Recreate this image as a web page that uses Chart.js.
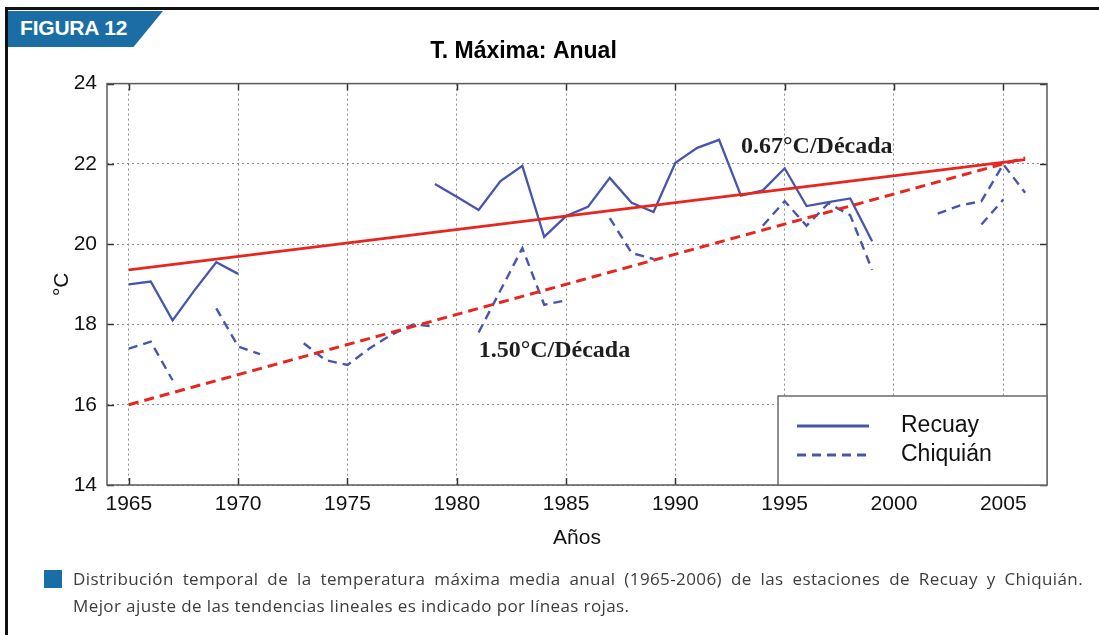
<!DOCTYPE html>
<html lang="es">
<head>
<meta charset="utf-8">
<title>T. Máxima: Anual</title>
<script src="https://cdn.jsdelivr.net/npm/chart.js@4/dist/chart.umd.min.js"></script>
<style>
  html, body { margin: 0; padding: 0; background: #fff; }
  body { width: 1099px; height: 635px; position: relative; overflow: hidden;
         font-family: "Liberation Sans", Arial, sans-serif; }
  .frame-top  { position: absolute; left: 5px; top: 7px; right: 0; height: 3px; background: #111; }
  .frame-left { position: absolute; left: 5px; top: 7px; bottom: 0; width: 3px; background: #111; }
  .tab { position: absolute; left: 8px; top: 11px; width: 155px; height: 36px; background: #1b6ea5;
         clip-path: polygon(0 0, 100% 0, 81% 100%, 0 100%); }
  .tab span { position: absolute; left: 12px; top: 5px; color: #fff; font-weight: bold; font-size: 21px;
              letter-spacing: -0.2px; }
  #wrap { position: absolute; left: 0; top: 0; width: 1099px; height: 635px; }
  .marker { position: absolute; left: 44px; top: 570px; width: 18px; height: 18px; background: #1b6ea5; }
  .caption { position: absolute; left: 73px; top: 565px; width: 1010px;
             font-family: "Open Sans", "Noto Sans", sans-serif; font-size: 17px; letter-spacing: 0.4px;
             line-height: 27px; color: #3c3c3c; }
  .caption div { white-space: nowrap; }
  .caption .l1 { text-align: justify; text-align-last: justify; }
</style>
</head>
<body>
<div class="frame-top"></div>
<div class="frame-left"></div>
<div class="tab"><span>FIGURA 12</span></div>
<div id="wrap"><canvas id="chart" width="1099" height="635"></canvas></div>
<div class="marker"></div>
<div class="caption">
  <div class="l1">Distribución temporal de la temperatura máxima media anual (1965-2006) de las estaciones de Recuay y Chiquián.</div>
  <div>Mejor ajuste de las tendencias lineales es indicado por líneas rojas.</div>
</div>
<script>
// Annual mean maximum temperature (°C), 1965-2006; null = missing year
const years = [1965, 1966, 1967, 1968, 1969, 1970, 1971, 1972, 1973, 1974,
               1975, 1976, 1977, 1978, 1979, 1980, 1981, 1982, 1983, 1984,
               1985, 1986, 1987, 1988, 1989, 1990, 1991, 1992, 1993, 1994,
               1995, 1996, 1997, 1998, 1999, 2000, 2001, 2002, 2003, 2004,
               2005, 2006];

const recuay = [19.00, 19.07, 18.10, 18.85, 19.55, 19.26, null, null, null, null,
                null, null, null, null, 21.50, 21.18, 20.85, 21.57, 21.95, 20.18,
                20.70, 20.93, 21.65, 21.03, 20.80, 22.03, 22.40, 22.60, 21.21, 21.34,
                21.89, 20.95, 21.05, 21.14, 20.07, null, null, null, null, null,
                null, null];

const chiquian = [17.40, 17.57, 16.61, null, 18.40, 17.45, 17.26, null, 17.53, 17.11,
                  16.99, 17.40, 17.74, 18.00, 17.95, null, 17.80, 18.85, 19.90, 18.49,
                  18.60, null, 20.65, 19.78, 19.63, null, null, null, null, 20.46,
                  21.07, 20.46, 21.02, 20.72, 19.36, null, null, 20.76, 20.96, 21.07,
                  21.99, 21.28];

// Second Chiquián record for 2004-2005
const chiquianAltYears = [2004, 2005];
const chiquianAlt = [20.49, 21.11];

// Linear trends: rate in °C per decade, fitted value at the first year
const trendYears = [1965, 2006];
const recuayRate = 0.67;
const chiquianRate = 1.50;
const recuayTrendStart = 19.36;
const chiquianTrendStart = 16.00;

const xTickYears = [1965, 1970, 1975, 1980, 1985, 1990, 1995, 2000, 2005];
const yTickValues = [14, 16, 18, 20, 22, 24];

const BLUE = '#4656ad';
const RED = '#e8261e';
const SANS = '"Liberation Sans", Arial, sans-serif';
const SERIF = '"Liberation Serif", "Times New Roman", serif';

const toPoints = (xs, ys) => xs.map((x, i) => ({ x: x, y: ys[i] }));
const trendPoints = (start, rate) =>
  trendYears.map(x => ({ x: x, y: start + rate * (x - trendYears[0]) / 10 }));
const rateLabel = rate => rate.toFixed(2) + '°C/Década';

// Plot frame with inward tick marks on all four sides
const frameBox = {
  id: 'frameBox',
  afterDraw(chart) {
    const { ctx, chartArea: a, scales } = chart;
    ctx.save();
    ctx.strokeStyle = '#333';
    ctx.lineWidth = 1.5;
    ctx.beginPath();
    xTickYears.forEach(v => {
      const x = Math.round(scales.x.getPixelForValue(v)) + 0.5;
      ctx.moveTo(x, a.bottom); ctx.lineTo(x, a.bottom - 7);
      ctx.moveTo(x, a.top); ctx.lineTo(x, a.top + 7);
    });
    yTickValues.forEach(v => {
      const y = Math.round(scales.y.getPixelForValue(v)) + 0.5;
      ctx.moveTo(a.left, y); ctx.lineTo(a.left + 7, y);
      ctx.moveTo(a.right, y); ctx.lineTo(a.right - 7, y);
    });
    ctx.stroke();
    ctx.strokeStyle = '#5a5a5a';
    ctx.lineWidth = 1.5;
    ctx.strokeRect(a.left, a.top, a.right - a.left, a.bottom - a.top);
    ctx.restore();
  }
};

// Trend rate annotations, anchored in data coordinates
const trendLabels = {
  id: 'trendLabels',
  afterDatasetsDraw(chart) {
    const { ctx, scales } = chart;
    const items = [
      { text: rateLabel(recuayRate), x: 1993.0, y: 22.26 },
      { text: rateLabel(chiquianRate), x: 1981.0, y: 17.19 }
    ];
    ctx.save();
    ctx.font = 'bold 24px ' + SERIF;
    ctx.fillStyle = '#1e1e1e';
    ctx.textAlign = 'left';
    ctx.textBaseline = 'alphabetic';
    items.forEach(it => {
      ctx.fillText(it.text, scales.x.getPixelForValue(it.x), scales.y.getPixelForValue(it.y));
    });
    ctx.restore();
  }
};

// Boxed key in the lower right corner of the plot
const seriesKey = {
  id: 'seriesKey',
  afterDraw(chart) {
    const { ctx, chartArea: a } = chart;
    const ds = chart.data.datasets;
    const w = 269, h = 89;
    const left = a.right - w, top = a.bottom - h;
    ctx.save();
    ctx.fillStyle = '#fff';
    ctx.fillRect(left, top, w, h);
    ctx.strokeStyle = '#6a6a6a';
    ctx.lineWidth = 1.5;
    ctx.strokeRect(left, top, w, h);
    [0, 1].forEach((k, i) => {
      const y = top + 30 + i * 29;
      ctx.strokeStyle = ds[k].borderColor;
      ctx.lineWidth = 3;
      ctx.setLineDash(ds[k].borderDash || []);
      ctx.beginPath();
      ctx.moveTo(left + 19, y);
      ctx.lineTo(left + 91, y);
      ctx.stroke();
      ctx.setLineDash([]);
      ctx.fillStyle = '#111';
      ctx.font = '23px ' + SANS;
      ctx.textBaseline = 'middle';
      ctx.fillText(ds[k].label, left + 123, y);
    });
    ctx.restore();
  }
};

new Chart(document.getElementById('chart'), {
  type: 'line',
  data: {
    datasets: [
      { label: 'Recuay', data: toPoints(years, recuay),
        borderColor: BLUE, borderWidth: 2.3, order: 2 },
      { label: 'Chiquián', data: toPoints(years, chiquian),
        borderColor: BLUE, borderWidth: 2.4, borderDash: [9, 6], order: 2 },
      { label: 'Chiquián', data: toPoints(chiquianAltYears, chiquianAlt),
        borderColor: BLUE, borderWidth: 2.4, borderDash: [9, 6], order: 2 },
      { label: 'Tendencia Recuay', data: trendPoints(recuayTrendStart, recuayRate),
        borderColor: RED, borderWidth: 2.8, order: 1 },
      { label: 'Tendencia Chiquián', data: trendPoints(chiquianTrendStart, chiquianRate),
        borderColor: RED, borderWidth: 3, borderDash: [10, 6], order: 1 }
    ]
  },
  options: {
    responsive: false,
    animation: false,
    devicePixelRatio: 1,
    spanGaps: false,
    elements: { point: { radius: 0 }, line: { tension: 0, fill: false } },
    layout: { padding: { left: 0, right: 52, top: 0, bottom: 84 } },
    plugins: {
      legend: { display: false },
      tooltip: { enabled: false },
      title: {
        display: true,
        text: 'T. Máxima: Anual',
        color: '#000',
        font: { family: SANS, size: 23, weight: 'bold' },
        padding: { top: 38, bottom: 18 }
      }
    },
    scales: {
      x: {
        type: 'linear',
        min: 1964,
        max: 2007,
        afterBuildTicks: s => { s.ticks = xTickYears.map(v => ({ value: v })); },
        afterFit: s => { s.height = 66; },
        border: { display: false, dash: [2, 3] },
        grid: { color: '#8c8c8c', lineWidth: 1, drawTicks: false },
        ticks: { color: '#111', padding: 7, font: { family: SANS, size: 21 },
                 callback: v => String(v), maxRotation: 0, autoSkip: false },
        title: { display: true, text: 'Años', color: '#111',
                 font: { family: SANS, size: 21 }, padding: { top: 0, bottom: 0 } }
      },
      y: {
        min: 14,
        max: 24,
        afterBuildTicks: s => { s.ticks = yTickValues.map(v => ({ value: v })); },
        afterFit: s => { s.width = 107; },
        border: { display: false, dash: [2, 3] },
        grid: { color: '#8c8c8c', lineWidth: 1, drawTicks: false },
        ticks: { color: '#111', padding: 10, font: { family: SANS, size: 21 } },
        title: { display: true, text: '°C', color: '#111',
                 font: { family: SANS, size: 21 }, padding: { top: 50, bottom: 0 } }
      }
    }
  },
  plugins: [frameBox, trendLabels, seriesKey]
});
</script>
</body>
</html>
